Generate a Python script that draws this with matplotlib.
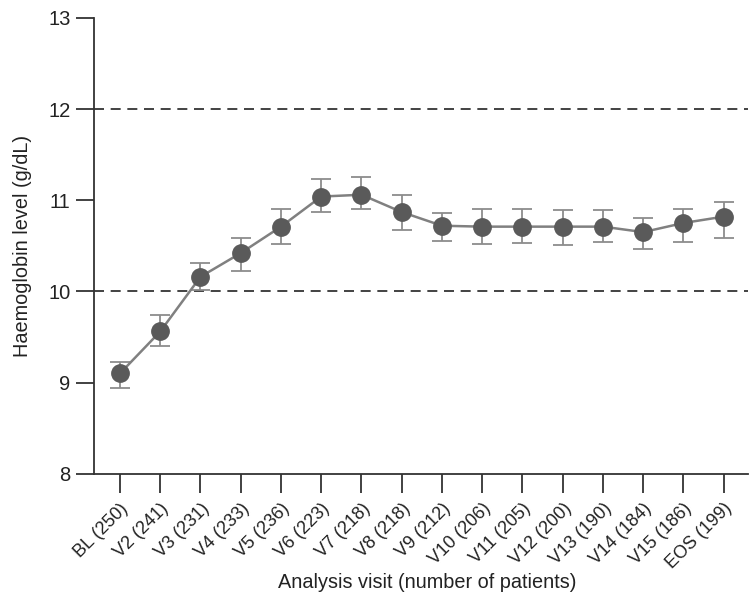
import matplotlib
matplotlib.use('Agg')
import matplotlib.pyplot as plt

plt.rcParams['font.family'] = ['Liberation Sans', 'DejaVu Sans']

# visit labels and haemoglobin values (g/dL)
visits = ['BL (250)', 'V2 (241)', 'V3 (231)', 'V4 (233)', 'V5 (236)', 'V6 (223)',
          'V7 (218)', 'V8 (218)', 'V9 (212)', 'V10 (206)', 'V11 (205)', 'V12 (200)',
          'V13 (190)', 'V14 (184)', 'V15 (186)', 'EOS (199)']
hb_mean = [9.10, 9.56, 10.16, 10.42, 10.71, 11.04, 11.06, 10.87,
           10.72, 10.71, 10.71, 10.71, 10.71, 10.65, 10.75, 10.82]
hb_upper = [9.23, 9.74, 10.31, 10.58, 10.90, 11.23, 11.25, 11.06,
            10.86, 10.90, 10.90, 10.89, 10.89, 10.81, 10.90, 10.98]
hb_lower = [8.94, 9.40, 10.01, 10.22, 10.52, 10.87, 10.90, 10.67,
            10.55, 10.52, 10.53, 10.51, 10.54, 10.47, 10.54, 10.58]
ref_lines = [10, 12]

x = list(range(len(visits)))
err_lo = [m - l for m, l in zip(hb_mean, hb_lower)]
err_hi = [u - m for m, u in zip(hb_mean, hb_upper)]

fig = plt.figure(figsize=(7.49, 5.96), dpi=100)
ax = fig.add_axes([0.1255, 0.2052, 0.873, 0.7648])

for r in ref_lines:
    ax.axhline(r, color='#222222', lw=1.2, ls=(0, (6, 4)), zorder=1)

ax.errorbar(x, hb_mean, yerr=[err_lo, err_hi], fmt='none', ecolor='#8c8c8c',
            elinewidth=1.3, capsize=7, capthick=1.3, zorder=2)
ax.plot(x, hb_mean, color='#808080', lw=1.8, zorder=3)
ax.plot(x, hb_mean, 'o', color='#5a5a5a', markersize=12.5, zorder=4)

ax.set_xlim(-0.646, 15.6)
ax.set_ylim(8, 13)
ax.set_yticks([8, 9, 10, 11, 12, 13])
ax.set_xticks(x)
ax.set_xticklabels(visits, rotation=45, ha='right', rotation_mode='anchor', fontsize=13, color='#222222')
ax.tick_params(axis='y', labelsize=14.5, length=13, width=1.3, color='#333333', labelcolor='#222222', pad=4)
ax.tick_params(axis='x', length=14, width=1.3, color='#333333', pad=5)

for s in ['top', 'right']:
    ax.spines[s].set_visible(False)
for s in ['left', 'bottom']:
    ax.spines[s].set_linewidth(1.3)
    ax.spines[s].set_color('#333333')

ax.set_ylabel('Haemoglobin level (g/dL)', fontsize=14.3, color='#222222', va='center')
ax.yaxis.set_label_coords(-0.110, 0.5)
ax.set_xlabel('Analysis visit (number of patients)', fontsize=14.3, color='#222222', va='center')
ax.xaxis.set_label_coords(0.51, -0.238)

plt.savefig('out.png', dpi=100)
